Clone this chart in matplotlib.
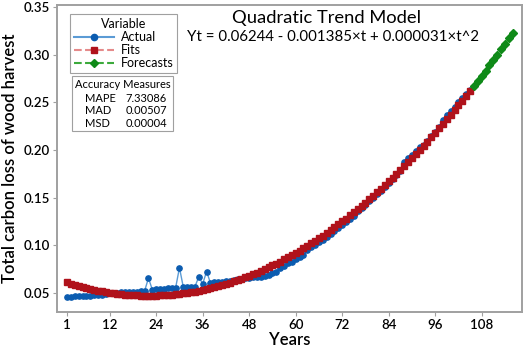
import matplotlib
matplotlib.use('Agg')
import matplotlib.pyplot as plt
from matplotlib.lines import Line2D
from matplotlib.patches import Rectangle

plt.rcParams['font.family'] = ['Lato', 'DejaVu Sans']

# data
years = list(range(1, 106))
forecast_years = list(range(106, 117))

actual = [
    0.0460, 0.0462, 0.0464, 0.0466, 0.0468, 0.0470, 0.0473, 0.0476, 0.0479, 0.0483,
    0.0487, 0.0497, 0.0501, 0.0503, 0.0505, 0.0507, 0.0509, 0.0511, 0.0513, 0.0516,
    0.0520, 0.0655, 0.0535, 0.0537, 0.0540, 0.0545, 0.0555, 0.0548, 0.0552, 0.0765,
    0.0560, 0.0562, 0.0563, 0.0567, 0.0670, 0.0595, 0.0725, 0.0605, 0.0610, 0.0615,
    0.0620, 0.0625, 0.0630, 0.0636, 0.0642, 0.0650, 0.0658, 0.0662, 0.0665, 0.0668,
    0.0672, 0.0678, 0.0690, 0.0705, 0.0725, 0.0760, 0.0785, 0.0810, 0.0830, 0.0853,
    0.0875, 0.0900, 0.0955, 0.0980, 0.1005, 0.1033, 0.1060, 0.1088, 0.1117, 0.1147,
    0.1177, 0.1208, 0.1240, 0.1275, 0.1310, 0.1360, 0.1393, 0.1428, 0.1465, 0.1500,
    0.1537, 0.1575, 0.1612, 0.1652, 0.1692, 0.1733, 0.1775, 0.1870, 0.1912, 0.1952,
    0.1993, 0.2035, 0.2053, 0.2098, 0.2143, 0.2190, 0.2240, 0.2320, 0.2365, 0.2410,
    0.2455, 0.2502, 0.2550, 0.2590, 0.2630,
]

fits = [
    0.0611, 0.0598, 0.0586, 0.0574, 0.0563, 0.0553, 0.0543, 0.0534, 0.0525, 0.0517,
    0.0510, 0.0503, 0.0497, 0.0492, 0.0487, 0.0483, 0.0479, 0.0477, 0.0474, 0.0473,
    0.0472, 0.0471, 0.0471, 0.0472, 0.0474, 0.0476, 0.0479, 0.0482, 0.0486, 0.0491,
    0.0496, 0.0502, 0.0508, 0.0515, 0.0523, 0.0531, 0.0540, 0.0550, 0.0560, 0.0571,
    0.0583, 0.0595, 0.0608, 0.0621, 0.0635, 0.0650, 0.0665, 0.0681, 0.0697, 0.0714,
    0.0732, 0.0751, 0.0770, 0.0789, 0.0809, 0.0830, 0.0852, 0.0874, 0.0897, 0.0920,
    0.0944, 0.0969, 0.0994, 0.1020, 0.1047, 0.1074, 0.1102, 0.1130, 0.1159, 0.1189,
    0.1219, 0.1250, 0.1281, 0.1313, 0.1346, 0.1380, 0.1414, 0.1448, 0.1484, 0.1520,
    0.1556, 0.1593, 0.1631, 0.1670, 0.1709, 0.1748, 0.1789, 0.1829, 0.1871, 0.1913,
    0.1956, 0.1999, 0.2043, 0.2088, 0.2133, 0.2179, 0.2226, 0.2273, 0.2321, 0.2369,
    0.2418, 0.2468, 0.2518, 0.2569, 0.2621,
]

forecasts = [0.2673, 0.2726, 0.2779, 0.2834, 0.2888, 0.2944, 0.2999, 0.3056,
             0.3113, 0.3171, 0.3230]

x_ticks = [1, 12, 24, 36, 48, 60, 72, 84, 96, 108]
y_ticks = [0.05, 0.10, 0.15, 0.20, 0.25, 0.30, 0.35]

accuracy_names = ['MAPE', 'MAD', 'MSD']
accuracy_values = ['7.33086', '0.00507', '0.00004']

blue_line, blue_dot = '#5b9bd5', '#0b5cb0'
red_line, red_dot = '#e58a8a', '#b0121b'
green_line, green_dot = '#3caa3c', '#0f8a18'
frame = '#a0a0a0'

fig = plt.figure(figsize=(5.26, 3.47), dpi=100)
ax = fig.add_axes([57 / 526, 1 - 312 / 347, 465 / 526, 307 / 347])

ax.plot(years, actual, color=blue_line, lw=1.0, marker='o', ms=3.8,
        mfc=blue_dot, mec=blue_dot, zorder=3)
ax.plot(years, fits, color=red_line, lw=1.0, ls='--', marker='s', ms=4.6,
        mfc=red_dot, mec=red_dot, zorder=4)
ax.plot(forecast_years, forecasts, color=green_line, lw=1.0, ls='--', marker='D',
        ms=3.8, mfc=green_dot, mec=green_dot, zorder=4)

ax.set_xlim(-1.6, 118.4)
ax.set_ylim(0.0300, 0.3522)
ax.set_xticks(x_ticks)
ax.set_yticks(y_ticks)
ax.set_yticklabels([f'{v:.2f}' for v in y_ticks])
ax.tick_params(labelsize=9.5, length=3, color=frame, pad=2)
for lab in ax.get_xticklabels() + ax.get_yticklabels():
    lab.set_fontweight('semibold')
for s in ax.spines.values():
    s.set_color(frame)
    s.set_linewidth(1.4)

ax.set_xlabel('Years', fontsize=12, labelpad=1, fontweight='semibold')
ax.set_ylabel('Total carbon loss of wood harvest', fontsize=12, labelpad=4,
              fontweight='semibold')

fig.text(0.620, 0.948, 'Quadratic Trend Model', ha='center', va='center', fontsize=13.2)
fig.text(0.633, 0.893, 'Yt = 0.06244 - 0.001385\u00d7t + 0.000031\u00d7t^2',
         ha='center', va='center', fontsize=10.8)

handles = [
    Line2D([], [], color=blue_line, marker='o', ms=4.5, mfc=blue_dot, mec=blue_dot),
    Line2D([], [], color=red_line, ls='--', marker='s', ms=4.5, mfc=red_dot, mec=red_dot),
    Line2D([], [], color=green_line, ls='--', marker='D', ms=4.5, mfc=green_dot, mec=green_dot),
]
leg = ax.legend(handles, ['Actual', 'Fits', 'Forecasts'], title='Variable',
                loc='upper left', bbox_to_anchor=(0.029, 0.971), borderaxespad=0,
                fontsize=9, title_fontsize=9, fancybox=False, edgecolor=frame,
                handlelength=3.2, handletextpad=0.5, labelspacing=0.1,
                borderpad=0.3, framealpha=1)
leg.get_frame().set_linewidth(0.8)

ax.add_patch(Rectangle((0.032, 0.590), 0.218, 0.179, transform=ax.transAxes,
                       fill=False, edgecolor=frame, lw=0.8, zorder=5))
ax.text(0.141, 0.741, 'Accuracy Measures', transform=ax.transAxes,
        ha='center', va='center', fontsize=8.0)
for i, (n, v) in enumerate(zip(accuracy_names, accuracy_values)):
    yy = 0.697 - i * 0.041
    ax.text(0.061, yy, n, transform=ax.transAxes, ha='left', va='center', fontsize=8.0)
    ax.text(0.148, yy, v, transform=ax.transAxes, ha='left', va='center', fontsize=8.0)

fig.savefig('out.png', dpi=100)
